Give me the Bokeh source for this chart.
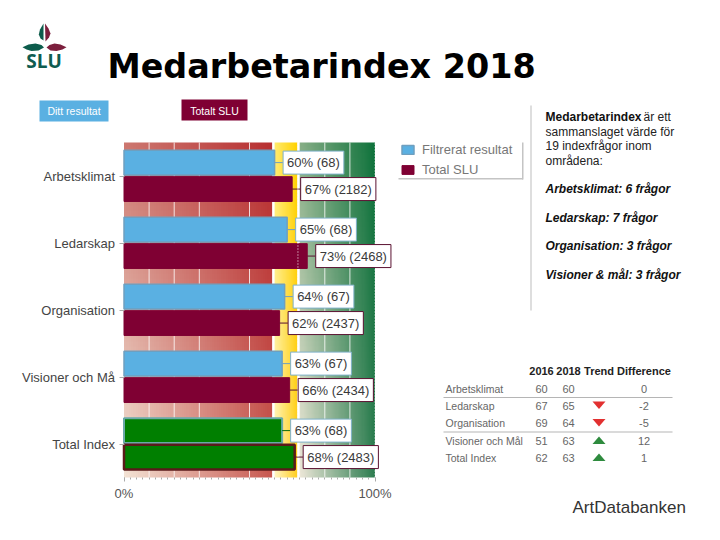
import numpy as np
from bokeh.embed import file_html
from bokeh.resources import INLINE
from bokeh.plotting import figure
from bokeh.models import (ColumnDataSource, Range1d, Label, FixedTicker, Legend, LegendItem)

# ---- data ----
categories = ["Arbetsklimat", "Ledarskap", "Organisation", "Visioner och Må", "Total Index"]
filtered_pct = [60, 65, 64, 63, 63]
filtered_n = [68, 68, 67, 67, 68]
total_pct = [67, 73, 62, 66, 68]
total_n = [2182, 2468, 2437, 2434, 2483]
filtered_fill = ["#5ab0e2"] * 4 + ["#007f00"]
total_fill = ["#7f0033"] * 4 + ["#007f00"]
grid_ticks = [10, 20, 30, 50, 80, 90]

table_header = ["2016", "2018", "Trend", "Difference"]
table_rows = ["Arbetsklimat", "Ledarskap", "Organisation", "Visioner och Mål", "Total Index"]
table_2016 = [60, 67, 69, 51, 62]
table_2018 = [60, 65, 64, 63, 63]
table_diff = [0, -2, -5, 12, 1]

info_lines = ["sammanslaget värde för", "19 indexfrågor inom", "områdena:"]
info_items = ["Arbetsklimat: 6 frågor", "Ledarskap: 7 frågor", "Organisation: 3 frågor", "Visioner & mål: 3 frågor"]

# ---- figure: the frame is the whole page; the chart's scale is set so 0-100 % lands on the plot area ----
W, H = 720, 540
L, R, T, B = 123.5, 374.5, 142, 477
n_cat = len(categories)
ux = (R - L) / 100
uy = (B - T) / n_cat
p = figure(width=W, height=H, output_backend="svg", toolbar_location=None,
           x_range=Range1d(-L / ux, (W - L) / ux), y_range=Range1d((B - H) / uy, B / uy),
           min_border_left=0, min_border_right=0, min_border_top=0, min_border_bottom=0,
           background_fill_color="white", border_fill_color="white")
p.outline_line_color = None
p.extra_x_ranges["px"] = Range1d(0, W)
p.extra_y_ranges["px"] = Range1d(H, 0)

def px_label(x, y, text, size=12, color="#333333", font="Liberation Sans", style="normal", align="left"):
    p.add_layout(Label(x=x, y=y, x_range_name="px", y_range_name="px", text=str(text), text_font=font,
                       text_font_size=f"{size}px", text_color=color, text_font_style=style,
                       text_align=align, text_baseline="middle"))

def px_box(x0, x1, y0, y1, color):
    p.quad(left=x0, right=x1, top=y0, bottom=y1, x_range_name="px", y_range_name="px",
           fill_color=color, line_color=None)

def px_poly(xs, ys, color):
    p.patch(x=xs, y=ys, x_range_name="px", y_range_name="px", fill_color=color, line_color=None)

# ---- graded background bands ----
def band(x0, x1, tl, tr, bl, br):
    n = 64
    u = np.linspace(0, 1, n)[None, :, None]
    v = np.linspace(0, 1, n)[:, None, None]   # row 0 is the bottom
    tl, tr, bl, br = [np.array(c, dtype=float)[None, None, :] for c in (tl, tr, bl, br)]
    rgb = (bl * (1 - u) + br * u) * (1 - v) + (tl * (1 - u) + tr * u) * v
    a = np.zeros((n, n), dtype=np.uint32)
    view = a.view(dtype=np.uint8).reshape((n, n, 4))
    view[:, :, :3] = rgb.astype(np.uint8)
    view[:, :, 3] = 255
    p.image_rgba(image=[a], x=x0, y=0, dw=x1 - x0, dh=n_cat, level="image")

band(0, 59, (205, 120, 112), (184, 48, 50), (243, 226, 212), (200, 88, 80))
band(60, 69, (255, 235, 110), (255, 210, 0), (255, 246, 195), (255, 206, 30))
band(70, 100, (135, 175, 135), (15, 115, 60), (236, 231, 216), (45, 125, 80))

# grid lines between the bands and the bars
p.segment(x0=grid_ticks, x1=grid_ticks, y0=[0] * len(grid_ticks), y1=[n_cat] * len(grid_ticks),
          line_color="white", line_alpha=0.8, line_width=1)

# ---- bars ----
cat_pos = [n_cat - 1 - i + 0.5 for i in range(n_cat)]
OFF_F, OFF_T = 0.2, -0.195
y_f = [c + OFF_F for c in cat_pos]
y_t = [c + OFF_T for c in cat_pos]

src_f = ColumnDataSource(dict(y=y_f, v=filtered_pct, fill=filtered_fill,
                              line=["#6f9fbf"] * 4 + ["#6aa9a9"], lw=[1.5] * 4 + [2]))
src_t = ColumnDataSource(dict(y=y_t, v=total_pct, fill=total_fill,
                              line=["#7f0033"] * 4 + ["#5a1a1a"], lw=[1] * 4 + [2.5]))
r_f = p.hbar(y="y", right="v", left=0, height=0.37, source=src_f,
             fill_color="fill", line_color="line", line_width="lw")
r_t = p.hbar(y="y", right="v", left=0, height=0.37, source=src_t,
             fill_color="fill", line_color="line", line_width="lw")

# leader lines
p.segment(x0=filtered_pct, x1=[v + 3.3 for v in filtered_pct], y0=y_f, y1=y_f,
          line_color=["#6f9fbf"] * 4 + ["#0a6a0a"], line_width=1)
p.segment(x0=total_pct, x1=[v + 3.3 for v in total_pct], y0=y_t, y1=y_t,
          line_color="#5a1030", line_width=1)

# dotted limits
p.segment(x0=[69.3, 100], x1=[69.3, 100], y0=[0, 0], y1=[n_cat, n_cat],
          line_color="white", line_dash="1 2", line_width=1)

# value labels
def val_labels(vals, ns, ys, border):
    for v, n, y in zip(vals, ns, ys):
        p.add_layout(Label(x=v, y=y, x_offset=8.5, text=f"{v}% ({n})", text_font="Liberation Sans", text_font_size="13px",
                           text_color="#3a3a3a", text_align="left", text_baseline="middle", padding=4,
                           background_fill_color="white", background_fill_alpha=1,
                           border_line_color=border, border_line_width=1))
val_labels(filtered_pct, filtered_n, y_f, "#7fb0c8")
val_labels(total_pct, total_n, y_t, "#5a1030")

# ---- axes ----
p.xgrid.visible = False
p.ygrid.visible = False

ax = p.xaxis[0]
ax.fixed_location = 0
ax.bounds = (0, 100)
ax.ticker = FixedTicker(ticks=[0, 100], minor_ticks=[i * 2.5 for i in range(41)])
ax.major_label_overrides = {0: "0%", 100: "100%"}
ax.major_label_text_font = "Liberation Sans"
ax.major_label_text_font_size = "13px"
ax.major_label_text_color = "#555555"
ax.axis_line_color = None
ax.major_tick_line_color = "#aaaaaa"
ax.minor_tick_line_color = "#aaaaaa"
ax.major_tick_in, ax.major_tick_out = 0, 4
ax.minor_tick_in, ax.minor_tick_out = 0, 2
ax.major_label_standoff = 4

ay = p.yaxis[0]
ay.fixed_location = 0
ay.bounds = (0, n_cat)
ay.ticker = FixedTicker(ticks=cat_pos)
ay.major_label_overrides = dict(zip(cat_pos, categories))
ay.minor_tick_line_color = None
ay.major_label_text_font = "Liberation Sans"
ay.major_label_text_font_size = "13px"
ay.major_label_text_color = "#444444"
ay.axis_line_color = None
ay.major_tick_line_color = "#aaaaaa"
ay.major_tick_in, ay.major_tick_out = 0, 5
ay.major_label_standoff = 4

# ---- legend ----
legend = Legend(items=[LegendItem(label="Filtrerat resultat", renderers=[r_f], index=0),
                       LegendItem(label="Total SLU", renderers=[r_t], index=0)],
                location=(400, H - 177), border_line_color=None, background_fill_alpha=0,
                label_text_font="Liberation Sans", label_text_font_size="13px", label_text_color="#777777",
                glyph_width=15, glyph_height=11, label_height=11, spacing=5, padding=3, margin=0,
                label_standoff=7)
p.add_layout(legend)
px_box(398, 522.5, 177.5, 179, "#c4c4c4")
px_box(521.5, 523, 142, 179, "#c4c4c4")

# ---- page furniture ----
px_label(107, 65.5, "Medarbetarindex 2018", size=33.4, color="#000000", font="DejaVu Sans", style="bold")
px_box(39, 108, 100, 121, "#5ab0e2")
px_box(181, 247, 99, 120, "#7f0033")
px_label(73.5, 110.5, "Ditt resultat", size=10.5, color="white", align="center")
px_label(214, 110, "Totalt SLU", size=10.5, color="white", align="center")

# logo
px_poly([43, 39.5, 38.3, 40, 43], [23, 29, 34, 38, 40], "#0d5c4c")
px_poly([44.5, 48, 50, 48.5, 45], [23, 28, 33, 37, 41], "#7c1f3d")
px_poly([22, 28, 35, 41, 43.5, 38, 31, 26], [46.7, 44, 43, 44.5, 47, 50, 50.5, 49], "#0d5c4c")
px_poly([66, 60, 54, 49, 46, 50, 56, 62], [46.7, 44, 43, 44.5, 47, 50, 50.5, 49], "#7c1f3d")
px_label(43.5, 60, "SLU", size=19, color="#0f5c50", font="Open Sans", style="bold", align="center")

# right-hand info text
px_box(530, 531, 105, 310, "#bdbdbd")
px_label(545, 116, "Medarbetarindex", size=12, color="#111111", style="bold")
px_label(643, 116, "är ett", size=12, color="#222222")
for y, t in zip((131, 145, 160), info_lines):
    px_label(545, y, t, size=12, color="#222222")
for y, t in zip((188, 217, 245, 274), info_items):
    px_label(545, y, t, size=12, color="#111111", style="bold italic")

# table
col_x = [541, 568, 598.5, 643.5]
for x, t in zip(col_x, table_header):
    px_label(x, 370.5, t, size=11, color="#222222", style="bold", align="center")
row_y = [388, 405, 422.5, 440, 457]
for y, name, a, b, d in zip(row_y, table_rows, table_2016, table_2018, table_diff):
    px_label(445, y, name, size=10.5, color="#666666")
    px_label(col_x[0], y, a, size=11, color="#666666", align="center")
    px_label(col_x[1], y, b, size=11, color="#666666", align="center")
    px_label(col_x[3], y, d, size=11, color="#666666", align="center")
    if d < 0:
        px_poly([col_x[2] - 6.5, col_x[2] + 6.5, col_x[2]], [y - 4, y - 4, y + 3.5], "#e23030")
    elif d > 0:
        px_poly([col_x[2] - 6.5, col_x[2] + 6.5, col_x[2]], [y + 3.5, y + 3.5, y - 4], "#2e8b3e")
px_box(443, 672, 396.5, 397.5, "#b5b5b5")
px_box(443, 672, 431, 432, "#b5b5b5")

px_label(572, 507, "ArtDatabanken", size=17, color="#333333")

open("out.html", "w").write(file_html(p, INLINE))
